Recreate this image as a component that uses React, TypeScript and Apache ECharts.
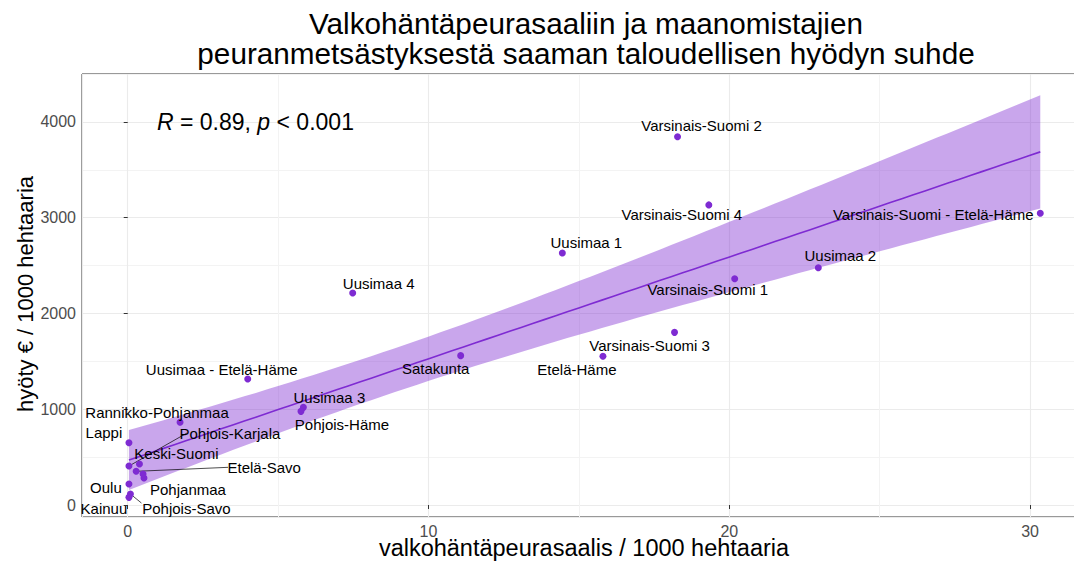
import React, { useEffect, useRef } from "react";
import * as echarts from "echarts";

const titleLines = [
  "Valkohäntäpeurasaaliin ja maanomistajien",
  "peuranmetsästyksestä saaman taloudellisen hyödyn suhde",
];
const xTitle = "valkohäntäpeurasaalis / 1000 hehtaaria";
const yTitle = "hyöty € / 1000 hehtaaria";

const regions = [
  "Varsinais-Suomi 2", "Varsinais-Suomi 4", "Varsinais-Suomi - Etelä-Häme", "Uusimaa 1",
  "Uusimaa 2", "Varsinais-Suomi 1", "Uusimaa 4", "Varsinais-Suomi 3", "Etelä-Häme",
  "Satakunta", "Uusimaa - Etelä-Häme", "Uusimaa 3", "Pohjois-Häme", "Rannikko-Pohjanmaa",
  "Lappi", "Pohjois-Karjala", "Keski-Suomi", "Etelä-Savo", "Pohjanmaa", "Kaakkois-Suomi",
  "Oulu", "Pohjois-Savo", "Kainuu",
];
const harvest = [
  18.28, 19.32, 30.34, 14.45, 22.96, 20.18, 7.48, 18.18, 15.8, 11.07, 3.99, 5.84, 5.76,
  1.74, 0.04, 0.04, 0.39, 0.28, 0.54, 0.51, 0.04, 0.09, 0.04,
];
const benefit = [
  3845, 3134, 3046, 2632, 2478, 2362, 2214, 1803, 1553, 1560, 1316, 1020, 978, 864, 651,
  407, 428, 352, 282, 324, 219, 115, 80,
];
const hiddenLabels = ["Kaakkois-Suomi"];

// label placement (pixel offsets from point) – layout only
const labelOffsets: Record<string, [number, number]> = {
  "Varsinais-Suomi 2": [24, -11],
  "Varsinais-Suomi 4": [-27, 10],
  "Varsinais-Suomi - Etelä-Häme": [-107, 1],
  "Uusimaa 1": [24, -10],
  "Uusimaa 2": [22, -12],
  "Varsinais-Suomi 1": [-27, 11],
  "Uusimaa 4": [26, -10],
  "Varsinais-Suomi 3": [-25, 13],
  "Etelä-Häme": [-26, 13],
  "Satakunta": [-25, 13],
  "Uusimaa - Etelä-Häme": [-26, -10],
  "Uusimaa 3": [26, -10],
  "Pohjois-Häme": [41, 13],
  "Rannikko-Pohjanmaa": [-23, -10],
  "Lappi": [-25, -10],
  "Pohjois-Karjala": [101, -33],
  "Keski-Suomi": [37, -11],
  "Etelä-Savo": [128, -4],
  "Pohjanmaa": [44, 11],
  "Kaakkois-Suomi": [0, 0],
  "Oulu": [-23, 3],
  "Pohjois-Savo": [56, 14],
  "Kainuu": [-25, 11],
};
// segment end (pixel offset from point) for repelled labels
const segmentEnds: Record<string, [number, number]> = {
  "Pohjois-Karjala": [58, -33],
  "Etelä-Savo": [92, -4],
  "Pohjois-Savo": [11, 9],
};

const T_QUANTILE = 2.08; // t(0.975, df = 21)
const PURPLE = "#7E2BD2";
const FONT = "'Liberation Sans', Arial, sans-serif";

function fitLm() {
  const n = harvest.length;
  const xbar = harvest.reduce((a, b) => a + b, 0) / n;
  const ybar = benefit.reduce((a, b) => a + b, 0) / n;
  let sxx = 0, sxy = 0;
  for (let i = 0; i < n; i++) {
    sxx += (harvest[i] - xbar) ** 2;
    sxy += (harvest[i] - xbar) * (benefit[i] - ybar);
  }
  const b = sxy / sxx;
  const a = ybar - b * xbar;
  let sse = 0;
  for (let i = 0; i < n; i++) sse += (benefit[i] - a - b * harvest[i]) ** 2;
  const s = Math.sqrt(sse / (n - 2));
  const xmin = Math.min(...harvest), xmax = Math.max(...harvest);
  const fit: number[][] = [], lo: number[][] = [], hi: number[][] = [];
  for (let k = 0; k < 80; k++) {
    const x = xmin + ((xmax - xmin) * k) / 79;
    const yh = a + b * x;
    const se = s * Math.sqrt(1 / n + (x - xbar) ** 2 / sxx);
    fit.push([x, yh]);
    lo.push([x, yh - T_QUANTILE * se]);
    hi.push([x, yh + T_QUANTILE * se]);
  }
  return { fit, lo, hi };
}

export default function App() {
  const ref = useRef<HTMLDivElement>(null);
  useEffect(() => {
    if (!ref.current) return;
    const chart = echarts.init(ref.current, null, { renderer: "svg" });
    const { fit, lo, hi } = fitLm();
    const bandPts = [...lo, ...hi.slice().reverse()];

    const scatterData = regions.map((name, i) => ({
      name,
      value: [harvest[i], benefit[i]],
      label: { show: !hiddenLabels.includes(name) },
    }));
    const segData = regions
      .map((name, i) => ({ name, value: [harvest[i], benefit[i]] }))
      .filter((d) => segmentEnds[d.name]);

    const axisCommon = {
      axisLine: { show: false },
      axisTick: { show: true, length: 4, lineStyle: { color: "#333333" } },
      axisLabel: {
        color: "#4D4D4D",
        fontSize: 16,
        fontFamily: FONT,
        margin: 6,
        showMinLabel: false,
        showMaxLabel: false,
        formatter: (v: number) => String(v),
      },
      splitLine: { show: true, lineStyle: { color: "#EBEBEB", width: 1.1 } },
      minorTick: { show: false, splitNumber: 2 },
      minorSplitLine: { show: true, lineStyle: { color: "#F3F3F3", width: 1 } },
    };

    chart.setOption({
      animation: false,
      grid: {
        left: 82,
        top: 74,
        width: 1004,
        height: 443,
        show: true,
        borderColor: "#333333",
        borderWidth: 1,
        backgroundColor: "transparent",
        containLabel: false,
        outerBoundsMode: "none",
      },
      xAxis: { type: "value", min: -1.52, max: 31.86, splitNumber: 3, ...axisCommon },
      yAxis: { type: "value", min: -125, max: 4501, splitNumber: 5, ...axisCommon },
      series: [
        {
          type: "custom",
          silent: true,
          z: 1,
          data: [[fit[0][0], fit[0][1]]],
          renderItem: (_p: any, api: any) => ({
            type: "polygon",
            shape: { points: bandPts.map((p) => api.coord(p)) },
            style: { fill: PURPLE, opacity: 0.42 },
          }),
        },
        {
          type: "line",
          z: 2,
          data: fit,
          symbol: "none",
          lineStyle: { color: PURPLE, width: 1.6 },
        },
        {
          type: "custom",
          z: 3,
          silent: true,
          data: segData,
          renderItem: (p: any, api: any) => {
            const d = segData[p.dataIndex];
            const c = api.coord(d.value);
            const e = segmentEnds[d.name];
            return {
              type: "line",
              shape: { x1: c[0], y1: c[1], x2: c[0] + e[0], y2: c[1] + e[1] },
              style: { stroke: "#000", lineWidth: 0.7 },
            };
          },
        },
        {
          type: "scatter",
          z: 4,
          data: scatterData,
          symbolSize: 7,
          itemStyle: { color: PURPLE, opacity: 1 },
          label: {
            show: true,
            position: "inside",
            formatter: "{b}",
            color: "#000",
            fontSize: 15,
            fontFamily: FONT,
          },
          labelLayout: (params: any) => {
            const off = labelOffsets[regions[params.dataIndex]] || [0, 0];
            return { dx: off[0], dy: off[1], hideOverlap: false };
          },
        },
      ],
      graphic: [
        {
          type: "text",
          x: 586,
          y: 23,
          style: {
            text: titleLines[0],
            font: `29.7px ${FONT}`,
            fill: "#000",
            textAlign: "center",
            textVerticalAlign: "middle",
          },
        },
        {
          type: "text",
          x: 586,
          y: 53,
          style: {
            text: titleLines[1],
            font: `29.7px ${FONT}`,
            fill: "#000",
            textAlign: "center",
            textVerticalAlign: "middle",
          },
        },
        {
          type: "text",
          x: 584,
          y: 548,
          style: {
            text: xTitle,
            font: `23.5px ${FONT}`,
            fill: "#000",
            textAlign: "center",
            textVerticalAlign: "middle",
          },
        },
        {
          type: "text",
          x: 25,
          y: 294,
          rotation: Math.PI / 2,
          style: {
            text: yTitle,
            font: `22px ${FONT}`,
            fill: "#000",
            textAlign: "center",
            textVerticalAlign: "middle",
          },
        },
        {
          type: "text",
          x: 157,
          y: 122,
          z: 10,
          style: {
            text: "{i|R} = 0.89, {i|p} < 0.001",
            font: `23px ${FONT}`,
            fill: "#000",
            textAlign: "left",
            textVerticalAlign: "middle",
            rich: {
              i: { fontStyle: "italic", fontSize: 23, fontFamily: FONT, fill: "#000" },
            },
          },
        },
      ],
    });
    return () => chart.dispose();
  }, []);
  return (
    <div
      ref={ref}
      style={{ position: "absolute", left: 0, top: 0, width: 1074, height: 562 }}
    />
  );
}
